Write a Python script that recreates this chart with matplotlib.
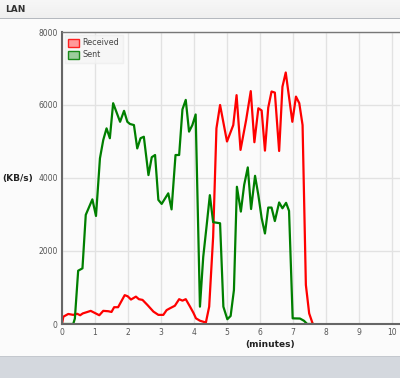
import numpy as np
import matplotlib.pyplot as plt
from matplotlib.patches import Patch, Rectangle

# minutes / KB/s
recv_t = [0, 0.04, 0.19, 0.34, 0.46, 0.55, 0.63, 0.77, 0.87, 1.0, 1.13, 1.25, 1.4, 1.5,
          1.58, 1.7, 1.9, 1.99, 2.09, 2.24, 2.33, 2.44, 2.59, 2.77, 2.92, 3.07, 3.17,
          3.27, 3.42, 3.55, 3.65, 3.75, 3.88, 3.98, 4.06, 4.18, 4.36, 4.46, 4.58, 4.68,
          4.79, 5.0, 5.19, 5.29, 5.41, 5.58, 5.72, 5.83, 5.95, 6.05, 6.15, 6.25, 6.35,
          6.45, 6.58, 6.68, 6.78, 6.98, 7.09, 7.19, 7.29, 7.39, 7.49, 7.6]
recv_v = [0, 200, 275, 250, 280, 240, 290, 330, 360, 300, 240, 360, 350, 330,
          460, 460, 790, 760, 670, 750, 680, 660, 520, 340, 250, 250, 380,
          430, 500, 680, 640, 680, 475, 310, 155, 90, 40, 475, 2390, 5360,
          6000, 5000, 5450, 6270, 4770, 5590, 6380, 4980, 5910, 5850, 4750, 5930, 6370,
          6340, 4740, 6500, 6890, 5540, 6230, 6050, 5450, 1070, 290, 0]

sent_t = [0, 0.34, 0.39, 0.49, 0.62, 0.72, 0.92, 1.03, 1.15, 1.25, 1.35, 1.45, 1.55,
          1.76, 1.88, 1.98, 2.06, 2.18, 2.28, 2.38, 2.48, 2.62, 2.72, 2.82, 2.92, 3.02,
          3.22, 3.32, 3.44, 3.55, 3.65, 3.75, 3.85, 3.95, 4.05, 4.18, 4.28, 4.38, 4.48,
          4.58, 4.79, 4.89, 5.01, 5.11, 5.21, 5.30, 5.42, 5.52, 5.63, 5.73, 5.85, 5.95,
          6.05, 6.15, 6.25, 6.35, 6.45, 6.58, 6.68, 6.79, 6.88, 6.99, 7.21, 7.33, 7.43, 7.6]
sent_v = [0, 0, 150, 1460, 1525, 2990, 3415, 2960, 4540, 5040, 5360, 5090, 6050,
          5540, 5840, 5540, 5480, 5450, 4810, 5090, 5130, 4080, 4570, 4630, 3400, 3290,
          3580, 3140, 4630, 4630, 5880, 6140, 5270, 5450, 5740, 475, 1840, 2670, 3530,
          2790, 2760, 475, 130, 220, 930, 3760, 3080, 3810, 4290, 3150, 4060, 3530,
          2900, 2480, 3190, 3190, 2820, 3330, 3170, 3320, 3100, 155, 150, 90, 0, 0]

x_ticks = [0, 1, 2, 3, 4, 5, 6, 7, 8, 9, 10]
y_ticks = [0, 2000, 4000, 6000, 8000]

W, H = 400, 378
fig = plt.figure(figsize=(W / 100, H / 100), dpi=100, facecolor='#fbfbfb')

# header band
hdr = fig.add_axes([0, 1 - 18 / H, 1, 18 / H])
hdr.imshow(np.linspace(0.93, 0.87, 20).reshape(-1, 1), cmap='Greys_r', vmin=0, vmax=1,
           aspect='auto', extent=[0, 1, 0, 1])
hdr.set_xlim(0, 1)
hdr.set_ylim(0, 1)
hdr.axis('off')
hdr.text(5 / W, 0.5, 'LAN', fontsize=6.5, fontweight='bold', color='#333333', va='center')
fig.add_artist(Rectangle((0, 1 - 19 / H), 1, 1 / H, transform=fig.transFigure,
                         color='#b5b9bf', lw=0))

# bottom band
fig.add_artist(Rectangle((0, 0), 1, 21 / H, transform=fig.transFigure,
                         color='#d4d8de', lw=0))
fig.add_artist(Rectangle((0, 21 / H), 1, 1 / H, transform=fig.transFigure,
                         color='#c4c8ce', lw=0))

ax = fig.add_axes([62 / W, 1 - 324 / H, (W - 62) / W, 292 / H])
ax.set_facecolor('#fbfbfb')
ax.plot(recv_t, recv_v, color='#ff0000', lw=1.6, solid_joinstyle='round')
ax.plot(sent_t, sent_v, color='#007f00', lw=1.6, solid_joinstyle='round')

ax.set_xlim(0, (W - 62) / 33)
ax.set_ylim(0, 8000)
ax.set_xticks(x_ticks)
ax.set_yticks(y_ticks)
ax.grid(True, color='#e2e2e2', lw=1)
ax.set_axisbelow(True)
ax.tick_params(length=0, labelsize=5.5, labelcolor='#555555', pad=3)
for s in ['left', 'bottom']:
    ax.spines[s].set_color('#666666')
    ax.spines[s].set_linewidth(1.5)
ax.spines['top'].set_color('#777777')
ax.spines['top'].set_linewidth(1)
ax.spines['right'].set_visible(False)

fig.text(2 / W, 1 - 179 / H, '(KB/s)', fontsize=6.5, fontweight='bold', color='#222222',
         va='center')
fig.text(270 / W, 1 - 345 / H, '(minutes)', fontsize=6.5, fontweight='bold',
         color='#222222', ha='center', va='center')

handles = [Patch(facecolor='#ff9a9a', edgecolor='#ff2020', label='Received'),
           Patch(facecolor='#9ccc9c', edgecolor='#1a8a1a', label='Sent')]
leg = ax.legend(handles=handles, loc='upper left', fontsize=5.8, frameon=True,
                handlelength=1.3, handleheight=1.15, handletextpad=0.45,
                labelspacing=0.35, borderaxespad=0.35, borderpad=0.45, fancybox=False)
leg.get_frame().set_facecolor('#f5f5f5')
leg.get_frame().set_edgecolor('#eeeeee')
for t in leg.get_texts():
    t.set_color('#444444')

fig.savefig('out.png', dpi=100, facecolor=fig.get_facecolor())
